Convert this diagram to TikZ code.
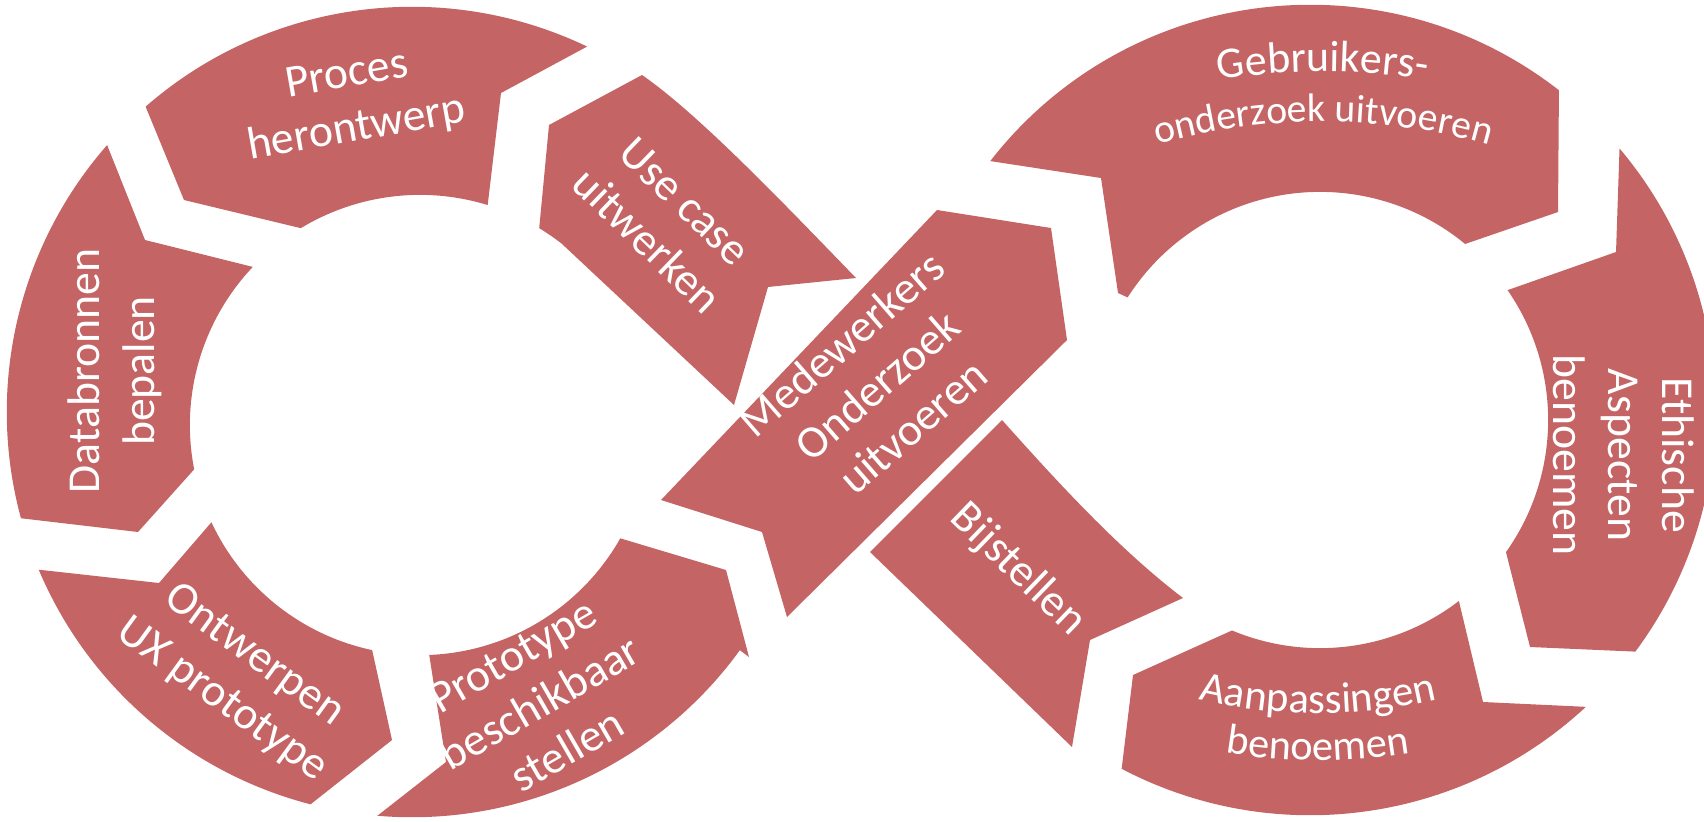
\documentclass[tikz,border=0pt]{standalone}
\usepackage{fontspec}
\setmainfont{Carlito}
\usetikzlibrary{calc,decorations.text}
\definecolor{segred}{RGB}{196,100,100}
\newcommand\lblfont{\fontsize{13}{15.5}\selectfont}
\newcommand\seglabel[4]{%
  \node[lbl, rotate=#3] (#1) at (#2) {#4};}
% center, radius, start angle, end angle, font size, text
\newcommand\arctext[6]{%
  \path[decorate, decoration={text along path, text align=center,
      text={|\fontsize{#5}{15}\selectfont\color{white}|#6}}]
    ($(#1)+(#3:#2)$) arc[start angle=#3, end angle=#4, radius=#2];}
\begin{document}
\begin{tikzpicture}[x=0.01cm, y=-0.01cm,
  segfill/.style={fill=segred},
  lbl/.style={text=white, font=\lblfont, align=center, inner sep=0pt}]
\useasboundingbox (0,0) rectangle (1704,821);
\clip (0,0) rectangle (1704,821);
\coordinate (CoL) at (412,412);
\coordinate (CiL) at (420,425);
\coordinate (CoR) at (1310,410);
\coordinate (CiR) at (1320,420);

% ---- left loop ----
% Proces herontwerp
\fill[segfill] ($(CoL)+(-228.9:4.05cm)$) arc[start angle=-228.9, end angle=-295.6, radius=4.05cm]
  -- (501,93) -- ($(CiL)+(-287.1:2.3cm)$) arc[start angle=-287.1, end angle=-238.8, radius=2.3cm]
  -- (184,200) -- cycle;
% Databronnen
\fill[segfill] ($(CoL)+(-221.2:4.05cm)$) -- (145,240)
  -- ($(CiL)+(-223.4:2.3cm)$) arc[start angle=-223.4, end angle=-168.9, radius=2.3cm]
  -- (138,532) -- ($(CoL)+(-164.8:4.05cm)$) arc[start angle=-164.8, end angle=-221.2, radius=4.05cm] -- cycle;
% Ontwerpen
\fill[segfill] ($(CoL)+(-157.1:4.05cm)$) -- (159,583)
  -- ($(CiL)+(-155:2.3cm)$) arc[start angle=-155, end angle=-102, radius=2.3cm]
  -- (392,740) -- ($(CoL)+(-104.5:4.05cm)$) arc[start angle=-104.5, end angle=-157.1, radius=4.05cm] -- cycle;
% Prototype
\fill[segfill] ($(CoL)+(-94.9:4.05cm)$) -- (446,762)
  -- ($(CiL)+(-87.7:2.3cm)$) arc[start angle=-87.7, end angle=-29.5, radius=2.3cm]
  -- (726,570) -- (749,657) -- ($(CoL)+(-36:4.05cm)$) arc[start angle=-36, end angle=-94.9, radius=4.05cm] -- cycle;
% Use case
\fill[segfill] (642,75) .. controls (700,115) and (790,210) .. (856,278)
  -- (768,287) -- (734,405)
  -- ($(CiL)+(-308:2.3cm)$) arc[start angle=-308, end angle=-301.2, radius=2.3cm]
  -- (549,125) -- cycle;
% ---- crossing ----
% Medewerkers
\fill[segfill] (661,500) -- (937,210) -- (1051,228) -- (1067,340) -- (787,617) -- (762,532) -- cycle;
% Bijstellen
\fill[segfill] (870,552) -- (1002,420) .. controls (1060,485) and (1120,550) .. (1183,598)
  -- (1090,640) -- (1072,747) -- cycle;
% ---- right loop ----
% Gebruikers
\fill[segfill] ($(CoR)+(-217.9:4.05cm)$) arc[start angle=-217.9, end angle=-307.9, radius=4.05cm]
  -- (1558,212) -- ($(CiR)+(-309.5:2.28cm)$) arc[start angle=-309.5, end angle=-212.5, radius=2.28cm]
  -- (1118,293) -- (1101,178) -- cycle;
% Ethische
\fill[segfill] ($(CoR)+(-319.8:4.05cm)$) arc[start angle=-319.8, end angle=-396.6, radius=4.05cm]
  -- (1530,647) -- ($(CiR)+(-35.4:2.28cm)$) arc[start angle=-35.4, end angle=34.7, radius=2.28cm]
  -- (1616,252) -- cycle;
% Aanpassingen
\fill[segfill] ($(CoR)+(-47.1:4.05cm)$) -- (1483,702)
  -- ($(CiR)+(-52.5:2.28cm)$) arc[start angle=-52.5, end angle=-112.7, radius=2.28cm]
  -- (1133,675) -- ($(CoR)+(-117.7:4.05cm)$) arc[start angle=-117.7, end angle=-47.1, radius=4.05cm] -- cycle;

% ---- labels ----
\seglabel{proces}{352,103}{10}{Proces\\herontwerp}
\seglabel{usecase}{666,221}{-44}{Use case\\uitwerken}
\seglabel{databronnen}{115,371}{90}{Databronnen\\bepalen}
\seglabel{ontwerpen}{238,678}{-36}{Ontwerpen\\UX prototype}
\seglabel{prototype}{540,703}{30}{Prototype\\beschikbaar\\stellen}
\seglabel{medewerkers}{877,385}{41}{Medewerkers\\Onderzoek\\uitvoeren}
\seglabel{bijstellen}{1018,570}{-44}{Bijstellen}
\seglabel{ethische}{1624,455}{-90}{Ethische\\Aspecten\\benoemen}
\arctext{1323,722}{6.50cm}{125}{55}{12.5}{Gebruikers-}
\arctext{1323,722}{6.00cm}{125}{55}{11.3}{onderzoek uitvoeren}
\arctext{1318,193}{5.20cm}{235}{305}{12.2}{Aanpassingen}
\arctext{1318,193}{5.67cm}{235}{305}{12}{benoemen}
\end{tikzpicture}
\end{document}
